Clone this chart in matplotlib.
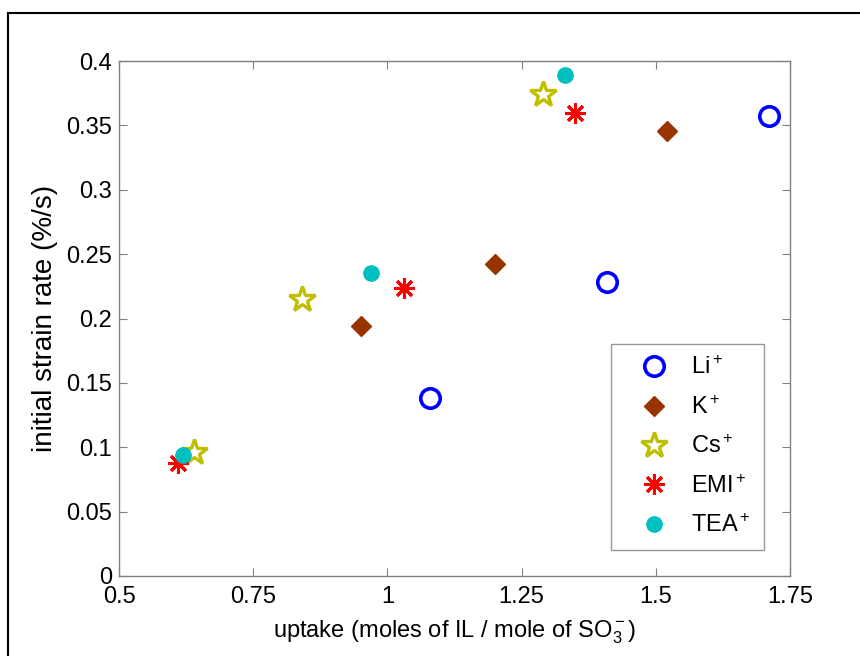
import matplotlib
matplotlib.use("Agg")
import matplotlib.pyplot as plt
from matplotlib.lines import Line2D

plt.rcParams['font.family'] = ['Liberation Sans', 'DejaVu Sans']
plt.rcParams['mathtext.fontset'] = 'custom'
plt.rcParams['mathtext.rm'] = 'Liberation Sans'
plt.rcParams['mathtext.it'] = 'Liberation Sans'
plt.rcParams['mathtext.bf'] = 'Liberation Sans'

# uptake (moles IL / mole SO3-) vs initial strain rate (%/s) per cation
li_x = [1.08, 1.41, 1.71]
li_y = [0.138, 0.228, 0.357]
k_x = [0.95, 1.20, 1.52]
k_y = [0.194, 0.242, 0.346]
cs_x = [0.64, 0.84, 1.29]
cs_y = [0.096, 0.215, 0.374]
emi_x = [0.61, 1.03, 1.35]
emi_y = [0.088, 0.224, 0.360]
tea_x = [0.62, 0.97, 1.33]
tea_y = [0.094, 0.235, 0.389]

labels = ['Li$^+$', 'K$^+$', 'Cs$^+$', 'EMI$^+$', 'TEA$^+$']
x_ticks = [0.5, 0.75, 1, 1.25, 1.5, 1.75]
x_tick_labels = ['0.5', '0.75', '1', '1.25', '1.5', '1.75']
y_ticks = [0, 0.05, 0.1, 0.15, 0.2, 0.25, 0.3, 0.35, 0.4]
y_tick_labels = ['0', '0.05', '0.1', '0.15', '0.2', '0.25', '0.3', '0.35', '0.4']

W, H = 860, 656
fig = plt.figure(figsize=(W / 100, H / 100), dpi=100)
ax = fig.add_axes([119 / W, 1 - 576 / H, (790 - 119) / W, (576 - 61) / H])

asterisk = (8, 2, 0)
ax.plot(li_x, li_y, ls='none', marker='o', ms=14, mfc='none', mec='#0000FF', mew=2.6, label=labels[0])
ax.plot(k_x, k_y, ls='none', marker='D', ms=10, mfc='#993300', mec='#993300', mew=1, label=labels[1])
ax.plot(cs_x, cs_y, ls='none', marker='*', ms=19, mfc='none', mec='#BFBF00', mew=2.4, label=labels[2])
ax.plot(emi_x, emi_y, ls='none', marker=asterisk, ms=15, mfc='#FF0000', mec='#FF0000', mew=2.2, label=labels[3])
ax.plot(tea_x, tea_y, ls='none', marker='o', ms=11, mfc='#00BFBF', mec='#00BFBF', mew=1, label=labels[4])

ax.set_xlim(0.5, 1.75)
ax.set_ylim(0, 0.4)
ax.set_xticks(x_ticks)
ax.set_xticklabels(x_tick_labels, fontsize=17)
ax.set_yticks(y_ticks)
ax.set_yticklabels(y_tick_labels, fontsize=17)

grey = '#808080'
for s in ax.spines.values():
    s.set_color(grey)
    s.set_linewidth(1.0)
ax.tick_params(direction='in', length=6, width=0.8, color=grey, top=True, right=True,
               labelcolor='black')
ax.tick_params(axis='y', pad=5)
ax.tick_params(axis='x', pad=7)

ax.set_xlabel('uptake (moles of IL / mole of SO$_3^-$)', fontsize=17, labelpad=8)
ax.set_ylabel('initial strain rate (%/s)', fontsize=20, labelpad=6)

leg = ax.legend(loc='lower right', bbox_to_anchor=(0.961, 0.0506), fontsize=17,
                frameon=True, fancybox=False, edgecolor=grey, borderpad=0.54,
                labelspacing=0.7, handletextpad=0.3, borderaxespad=0, handlelength=2.55)
leg.get_frame().set_linewidth(1.0)

# outer frame lines along the top and left edges
fig.add_artist(Line2D([7.5 / W, 1.0], [1 - 12.5 / H, 1 - 12.5 / H],
                      transform=fig.transFigure, color='black', lw=1.5))
fig.add_artist(Line2D([7.5 / W, 7.5 / W], [0.0, 1 - 12.5 / H],
                      transform=fig.transFigure, color='black', lw=1.5))

fig.savefig('out.png', dpi=100)
